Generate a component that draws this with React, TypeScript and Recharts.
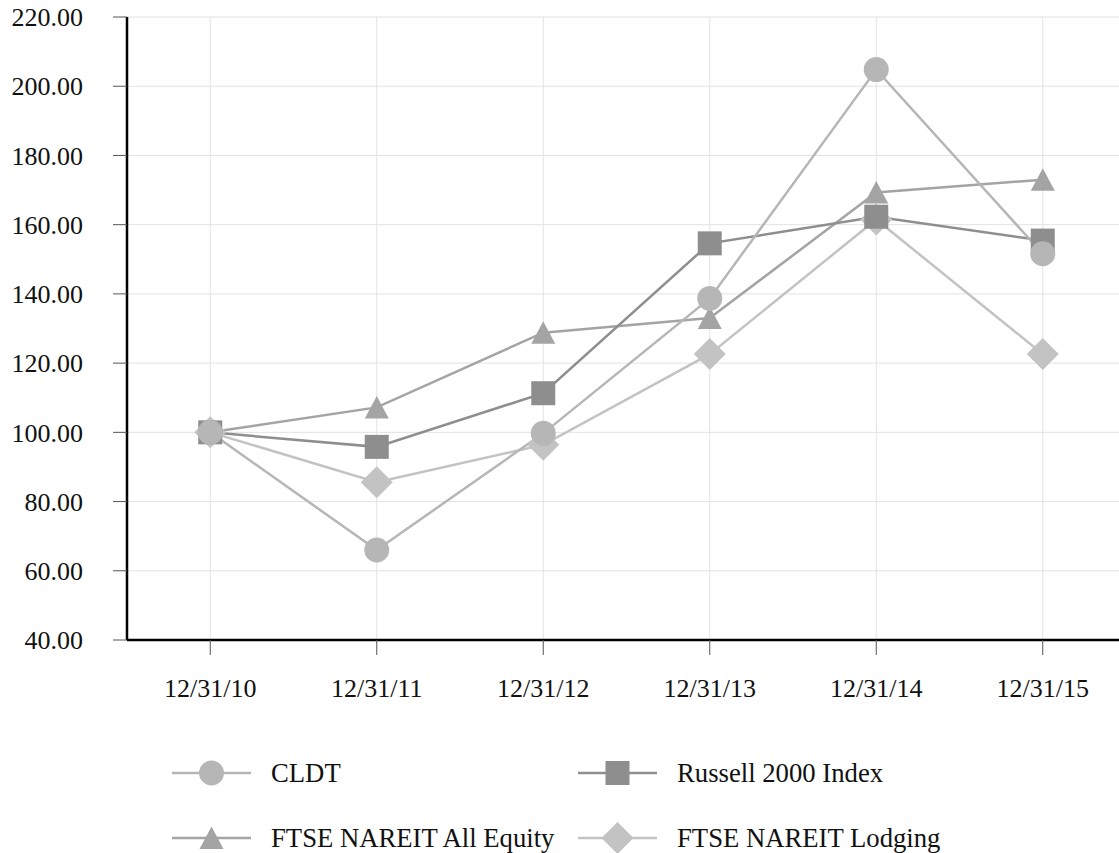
import React from "react";
import {
  LineChart,
  Line,
  XAxis,
  YAxis,
  CartesianGrid,
} from "recharts";

const dates = ["12/31/10", "12/31/11", "12/31/12", "12/31/13", "12/31/14", "12/31/15"];
const cldt = [100, 66.0, 99.7, 138.7, 204.8, 151.6];
const russell = [100, 95.8, 111.3, 154.6, 162.3, 155.4];
const allEquity = [100, 107.2, 128.8, 133.0, 169.3, 173.0];
const lodging = [100, 85.6, 96.4, 122.6, 161.5, 122.6];
const yTicks = [40, 60, 80, 100, 120, 140, 160, 180, 200, 220];

type Shape = "circle" | "square" | "triangle" | "diamond";

type Series = {
  key: string;
  name: string;
  color: string;
  shape: Shape;
};

// legend order
const series: Series[] = [
  { key: "cldt", name: "CLDT", color: "#b6b6b6", shape: "circle" },
  { key: "russell", name: "Russell 2000 Index", color: "#8e8e8e", shape: "square" },
  { key: "allEquity", name: "FTSE NAREIT All Equity", color: "#a4a4a4", shape: "triangle" },
  { key: "lodging", name: "FTSE NAREIT Lodging", color: "#c3c3c3", shape: "diamond" },
];

// draw order (bottom to top)
const drawOrder = ["lodging", "allEquity", "russell", "cldt"];

const data = dates.map((date, i) => ({
  date,
  cldt: cldt[i],
  russell: russell[i],
  allEquity: allEquity[i],
  lodging: lodging[i],
}));

const FONT = '"Liberation Serif", "Times New Roman", serif';

function markerEl(shape: Shape, color: string, cx: number, cy: number, key?: string) {
  if (shape === "circle") {
    return <circle key={key} cx={cx} cy={cy} r={12.5} fill={color} />;
  }
  if (shape === "square") {
    return <rect key={key} x={cx - 12} y={cy - 12} width={24} height={24} fill={color} />;
  }
  if (shape === "triangle") {
    return (
      <polygon
        key={key}
        points={`${cx},${cy - 11.5} ${cx - 12},${cy + 11} ${cx + 12},${cy + 11}`}
        fill={color}
      />
    );
  }
  return (
    <polygon
      key={key}
      points={`${cx},${cy - 16} ${cx + 16},${cy} ${cx},${cy + 16} ${cx - 16},${cy}`}
      fill={color}
    />
  );
}

function makeDot(s: Series) {
  return (props: any) => {
    const { cx, cy, index } = props;
    if (cx == null || cy == null) return <g key={`${s.key}-${index}`} />;
    return markerEl(s.shape, s.color, cx, cy, `${s.key}-${index}`);
  };
}

function LegendBlock() {
  const colX = [172, 578];
  const rowY = [773, 838];
  return (
    <div style={{ position: "absolute", left: 0, top: 0, width: 1119, height: 853, pointerEvents: "none" }}>
      {series.map((s, i) => {
        const x = colX[i % 2];
        const y = rowY[Math.floor(i / 2)];
        return (
          <div
            key={s.key}
            style={{
              position: "absolute",
              left: x,
              top: y - 20,
              height: 40,
              display: "flex",
              alignItems: "center",
              whiteSpace: "nowrap",
            }}
          >
            <svg width={80} height={40} style={{ display: "block" }}>
              <line x1={0} y1={20} x2={79} y2={20} stroke={s.color} strokeWidth={2.5} />
              {markerEl(s.shape, s.color, 39.5, 20)}
            </svg>
            <span
              style={{
                marginLeft: 19,
                fontFamily: FONT,
                fontSize: 26.7,
                color: "#111",
                lineHeight: "40px",
              }}
            >
              {s.name}
            </span>
          </div>
        );
      })}
    </div>
  );
}

export default function App() {
  const plotWidth = 999;
  const pad = plotWidth / 12;
  return (
    <div
      style={{
        position: "absolute",
        left: 0,
        top: 0,
        width: 1119,
        height: 853,
        overflow: "hidden",
        background: "#fff",
      }}
    >
      <LineChart
        width={1130}
        height={853}
        data={data}
        margin={{ top: 17, right: 4, bottom: 0, left: 0 }}
      >
        <CartesianGrid stroke="#e3e3e3" strokeWidth={1} />
        <XAxis
          dataKey="date"
          padding={{ left: pad, right: pad }}
          height={213}
          tickSize={15}
          tickMargin={24}
          axisLine={{ stroke: "#000", strokeWidth: 2.5 }}
          tickLine={{ stroke: "#555", strokeWidth: 1 }}
          tick={{ fill: "#111", fontSize: 26, fontFamily: FONT }}
          interval={0}
        />
        <YAxis
          width={127}
          domain={[40, 220]}
          ticks={yTicks}
          tickFormatter={(v: number) => v.toFixed(2)}
          tickSize={14}
          tickMargin={30}
          axisLine={{ stroke: "#000", strokeWidth: 2.5 }}
          tickLine={{ stroke: "#555", strokeWidth: 1 }}
          tick={{ fill: "#111", fontSize: 26, fontFamily: FONT }}
          interval={0}
        />
        {drawOrder.map((k) => {
          const s = series.find((x) => x.key === k)!;
          return (
            <Line
              key={s.key}
              dataKey={s.key}
              name={s.name}
              type="linear"
              stroke={s.color}
              strokeWidth={2.5}
              dot={makeDot(s)}
              activeDot={false}
              isAnimationActive={false}
            />
          );
        })}
      </LineChart>
      <LegendBlock />
    </div>
  );
}
